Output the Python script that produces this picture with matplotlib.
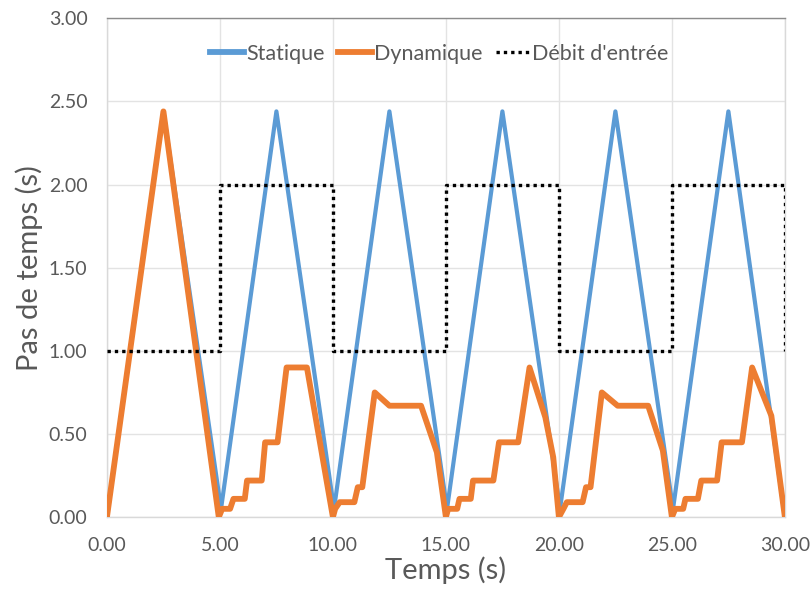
import matplotlib
matplotlib.use("Agg")
import matplotlib.pyplot as plt

# Data
t_static = [0, 2.5, 5.05, 7.5, 10.05, 12.5, 15.05, 17.5, 20.05, 22.5, 25.05, 27.5, 30]
v_static = [0, 2.44, 0.05, 2.44, 0.05, 2.44, 0.05, 2.44, 0.05, 2.44, 0.05, 2.44, 0.0]

t_dyn = [0, 2.5, 4.95,
         5.1, 5.45, 5.6, 6.1, 6.2, 6.85, 7.0, 7.55, 7.95, 8.85, 10.0,
         10.1, 10.3, 10.95, 11.1, 11.3, 11.85, 12.5, 13.9, 14.6, 15.0,
         15.1, 15.5, 15.6, 16.1, 16.2, 17.1, 17.35, 18.2, 18.7, 19.4, 19.75, 20.0,
         20.2, 20.35, 21.05, 21.2, 21.4, 21.9, 22.6, 23.95, 24.6, 25.0,
         25.15, 25.5, 25.6, 26.15, 26.3, 27.0, 27.2, 28.1, 28.55, 29.4, 30.0]
v_dyn = [0, 2.44, 0.0,
         0.05, 0.05, 0.11, 0.11, 0.22, 0.22, 0.45, 0.45, 0.90, 0.90, 0.0,
         0.05, 0.09, 0.09, 0.18, 0.18, 0.75, 0.67, 0.67, 0.39, 0.0,
         0.05, 0.05, 0.11, 0.11, 0.22, 0.22, 0.45, 0.45, 0.90, 0.60, 0.36, 0.0,
         0.05, 0.09, 0.09, 0.18, 0.18, 0.75, 0.67, 0.67, 0.40, 0.0,
         0.05, 0.05, 0.11, 0.11, 0.22, 0.22, 0.45, 0.45, 0.90, 0.61, 0.0]

t_debit = [0, 5, 10, 15, 20, 25, 30]
v_debit = [1.0, 2.0, 1.0, 2.0, 1.0, 2.0, 1.0]

x_ticks = [0, 5, 10, 15, 20, 25, 30]
y_ticks = [0, 0.5, 1.0, 1.5, 2.0, 2.5, 3.0]

plt.rcParams['font.family'] = ['Lato', 'DejaVu Sans']

fig = plt.figure(figsize=(8.10, 5.89), dpi=100)
ax = fig.add_axes([0.132, 0.122, 0.837, 0.847])

blue = '#5B9BD5'
orange = '#ED7D31'
gray = '#595959'

ax.plot(t_static, v_static, color=blue, lw=3.0, label='Statique', solid_joinstyle='round', zorder=3)
ax.plot(t_dyn, v_dyn, color=orange, lw=4.2, label='Dynamique', solid_joinstyle='round', zorder=4)
ax.plot(t_debit, v_debit, color='black', lw=2.4, linestyle=(0, (1, 1.2)), drawstyle='steps-post',
        label="Débit d'entrée", zorder=5)

ax.set_xlim(0, 30)
ax.set_ylim(0, 3.0)
ax.set_xticks(x_ticks)
ax.set_yticks(y_ticks)
ax.set_xticklabels([f"{v:.2f}" for v in x_ticks])
ax.set_yticklabels([f"{v:.2f}" for v in y_ticks])
ax.tick_params(axis='both', length=0, labelsize=14, colors=gray)
ax.tick_params(axis='x', pad=14)
ax.tick_params(axis='y', pad=14)
ax.grid(True, color='#E3E3E3', lw=1.0, zorder=0)
ax.set_axisbelow(True)

for side in ['left', 'right', 'bottom']:
    ax.spines[side].set_color('#D9D9D9')
    ax.spines[side].set_linewidth(1.0)
ax.spines['top'].set_color('#8C8C8C')
ax.spines['top'].set_linewidth(1.0)

ax.set_xlabel('Temps (s)', fontsize=21, color=gray, labelpad=2)
ax.set_ylabel('Pas de temps (s)', fontsize=21, color=gray, labelpad=4)

leg = ax.legend(loc='upper center', bbox_to_anchor=(0.49, 0.988), ncol=3, frameon=False,
                fontsize=15.5, handlelength=1.6, handletextpad=0.1, columnspacing=0.6)
for line in leg.get_lines()[:2]:
    line.set_linewidth(4.2)
for txt in leg.get_texts():
    txt.set_color(gray)

fig.savefig('out.png', dpi=100)
